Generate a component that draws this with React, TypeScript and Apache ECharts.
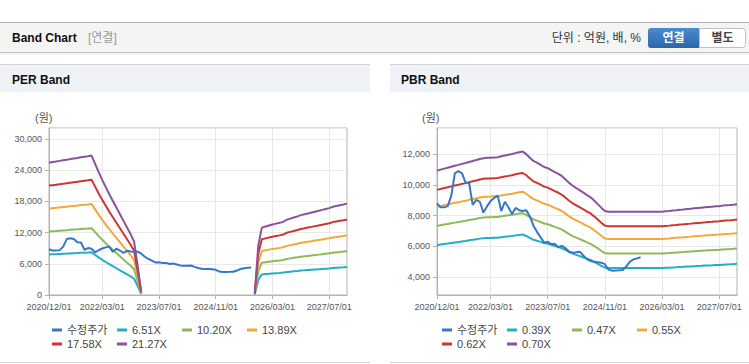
import React, { useEffect, useRef } from "react";
import * as echarts from "echarts";

const FONT = "'Liberation Sans', 'Noto Sans CJK KR', sans-serif";

// Monthly categories 2020/12/01 .. 2027/12/01
const START_YEAR = 2020;
const START_MONTH = 12;
const MONTH_COUNT = 85;
const months: string[] = [];
for (let i = 0; i < MONTH_COUNT; i++) {
  const t = START_MONTH - 1 + i;
  const y = START_YEAR + Math.floor(t / 12);
  const m = (t % 12) + 1;
  months.push(`${y}/${String(m).padStart(2, "0")}/01`);
}
const xTickLabels = ["2020/12/01", "2022/03/01", "2023/07/01", "2024/11/01", "2026/03/01", "2027/07/01"];

// 수정주가 (adjusted price), monthly
const price: (number | null)[] = [
  8800, 8540, 8540, 8620, 9300, 10750, 10900, 10750, 10150, 10100,
  8700, 9020, 8900, 8200, 8600, 8950, 9150, 9300, 8300, 8900,
  8550, 8100, 8500, 8350, 8300, 8350, 7950, 7350, 6950, 6600,
  6250, 6300, 6150, 6170, 5950, 6050, 5880, 5660, 5600, 5620,
  5660, 5400, 5180, 5050, 5010, 4980, 4950, 4850, 4500, 4430,
  4440, 4450, 4470, 4700, 5010, 5160, 5230, 5300,
  null, null, null, null, null, null, null, null, null, null,
  null, null, null, null, null, null, null, null, null, null,
  null, null, null, null, null, null, null,
];

// EPS basis for PER band (null where EPS negative)
const eps: (number | null)[] = [
  1196, 1201, 1206, 1212, 1217, 1222, 1228, 1233, 1238, 1244,
  1249, 1254, 1260, 1185, 1110, 1040, 975, 910, 850, 790,
  730, 670, 610, 550, 480, 260, 28,
  null, null, null, null, null, null, null, null, null, null,
  null, null, null, null, null, null, null, null, null, null,
  null, null, null, null, null, null, null, null, null, null,
  null,
  15, 450, 609, 619, 628, 637, 645, 652, 661, 680,
  690, 700, 710, 722, 729, 737, 745, 753, 761, 769,
  777, 785, 797, 804, 811, 818, 826,
];

// BPS basis for PBR band
const bps: number[] = [
  15600, 15700, 15790, 15870, 15970, 16060, 16140, 16230, 16310, 16410,
  16500, 16590, 16690, 16760, 16790, 16800, 16830, 16840, 16930, 17000,
  17070, 17140, 17230, 17310, 17370, 17130, 16800, 16500, 16340, 16140,
  15940, 15840, 15660, 15470, 15300, 15090, 14790, 14470, 14200, 13990,
  13770, 13560, 13330, 13130, 12830, 12500, 12170, 11860, 11800, 11800,
  11800, 11800, 11800, 11800, 11800, 11800, 11800, 11800, 11800, 11800,
  11800, 11800, 11800, 11800, 11830, 11860, 11900, 11930, 11970, 12000,
  12040, 12070, 12110, 12140, 12170, 12200, 12230, 12260, 12290, 12310,
  12360, 12390, 12410, 12440, 12490,
];

const perMultiples = [6.51, 10.2, 13.89, 17.58, 21.27];
const perNames = ["6.51X", "10.20X", "13.89X", "17.58X", "21.27X"];
const pbrMultiples = [0.39, 0.47, 0.55, 0.62, 0.7];
const pbrNames = ["0.39X", "0.47X", "0.55X", "0.62X", "0.70X"];
const priceName = "수정주가";

const bandColors = ["#22aec3", "#8fb957", "#f3a83b", "#cf3530", "#8c519e"];
const priceColor = "#3576c6";

const perYTicks = { min: 0, max: 32100, interval: 6000 };
const pbrYTicks = { min: 2850, max: 13690 };

export default function App() {
  const ref = useRef<HTMLDivElement>(null);

  useEffect(() => {
    if (!ref.current) return;
    const chart = echarts.init(ref.current, undefined, { renderer: "svg" });

    const tickIdx = new Set(xTickLabels.map((l) => months.indexOf(l)));
    const showIdx = (i: number) => tickIdx.has(i);

    const axisGray = "#b3b3b3";
    const gridGray = "#e8e8e8";

    const makeX = (gi: number) => ({
      type: "category",
      gridIndex: gi,
      data: months,
      boundaryGap: false,
      axisLine: { lineStyle: { color: axisGray } },
      axisTick: { show: true, interval: showIdx, length: 4, lineStyle: { color: axisGray } },
      axisLabel: { interval: showIdx, color: "#555", fontSize: 9, margin: 7, fontFamily: FONT },
      splitLine: { show: true, interval: showIdx, lineStyle: { color: gridGray } },
    });

    const yCommon = {
      type: "value",
      axisLine: { show: true, lineStyle: { color: axisGray } },
      axisTick: { show: true, length: 4, lineStyle: { color: axisGray } },
      splitLine: { show: true, lineStyle: { color: gridGray } },
    };

    const series: any[] = [];
    perMultiples.forEach((m, k) => {
      series.push({
        type: "line",
        name: perNames[k],
        xAxisIndex: 0,
        yAxisIndex: 0,
        data: eps.map((v) => (v == null ? null : Math.round(v * m))),
        symbol: "none",
        lineStyle: { width: 2, color: bandColors[k] },
        itemStyle: { color: bandColors[k] },
      });
    });
    series.push({
      type: "line",
      name: priceName,
      xAxisIndex: 0,
      yAxisIndex: 0,
      data: price,
      symbol: "none",
      lineStyle: { width: 2, color: priceColor },
      itemStyle: { color: priceColor },
    });
    pbrMultiples.forEach((m, k) => {
      series.push({
        type: "line",
        name: pbrNames[k],
        xAxisIndex: 1,
        yAxisIndex: 1,
        data: bps.map((v) => Math.round(v * m)),
        symbol: "none",
        lineStyle: { width: 2, color: bandColors[k] },
        itemStyle: { color: bandColors[k] },
      });
    });
    series.push({
      type: "line",
      name: priceName,
      xAxisIndex: 1,
      yAxisIndex: 1,
      data: price,
      symbol: "none",
      lineStyle: { width: 2, color: priceColor },
      itemStyle: { color: priceColor },
    });

    const legendBase = {
      orient: "horizontal",
      padding: 0,
      itemGap: 0,
      itemWidth: 10,
      itemHeight: 3,
      icon: "rect",
      selectedMode: false,
      textStyle: { fontSize: 11, color: "#444", width: 50, lineHeight: 14, fontFamily: FONT },
    };

    const hText = (text: string, x: number, y: number, extra: any = {}) => ({
      type: "text",
      x,
      y,
      style: {
        text,
        fontFamily: FONT,
        fontSize: 12,
        fill: "#222",
        verticalAlign: "middle",
        ...extra,
      },
    });

    const graphic: any[] = [
      // header
      { type: "rect", shape: { x: 0, y: 22, width: 749, height: 31 }, style: { fill: "#f4f4f4" } },
      { type: "rect", shape: { x: 0, y: 22, width: 749, height: 1 }, style: { fill: "#b4b4b4" } },
      { type: "rect", shape: { x: 0, y: 52, width: 749, height: 1 }, style: { fill: "#c2c2c2" } },
      { type: "rect", shape: { x: 0, y: 53, width: 749, height: 2 }, style: { fill: "rgba(0,0,0,0.05)" } },
      hText("Band Chart", 12, 38, { fontWeight: "bold", fill: "#111" }),
      hText("[연결]", 88, 38, { fill: "#999" }),
      hText("단위 : 억원, 배, %", 641, 38, { align: "right", fill: "#333" }),
      {
        type: "rect",
        shape: { x: 648, y: 28, width: 51, height: 20, r: [3, 0, 0, 3] },
        style: {
          fill: new echarts.graphic.LinearGradient(0, 0, 0, 1, [
            { offset: 0, color: "#4a8bd0" },
            { offset: 1, color: "#2c66a8" },
          ]),
        },
      },
      hText("연결", 673.5, 38, { align: "center", fill: "#fff", fontWeight: "bold" }),
      {
        type: "rect",
        shape: { x: 699.5, y: 28.5, width: 46, height: 19, r: [0, 3, 3, 0] },
        style: { fill: "#fff", stroke: "#c0c0c0", lineWidth: 1 },
      },
      hText("별도", 722.5, 38, { align: "center", fill: "#444", fontWeight: "bold" }),

      // PER panel
      { type: "rect", shape: { x: 0, y: 64, width: 370, height: 1 }, style: { fill: "#d3d3d3" } },
      { type: "rect", shape: { x: 0, y: 65, width: 370, height: 27 }, style: { fill: "#eef2f7" } },
      { type: "rect", shape: { x: 0, y: 362, width: 370, height: 1 }, style: { fill: "#d3d3d3" } },
      hText("PER Band", 12, 80, { fontWeight: "bold", fill: "#111" }),
      hText("(원)", 35, 118, { fontSize: 11, fill: "#555" }),

      // PBR panel
      { type: "rect", shape: { x: 390, y: 64, width: 359, height: 1 }, style: { fill: "#d3d3d3" } },
      { type: "rect", shape: { x: 390, y: 65, width: 359, height: 27 }, style: { fill: "#eef2f7" } },
      { type: "rect", shape: { x: 390, y: 362, width: 359, height: 1 }, style: { fill: "#d3d3d3" } },
      hText("PBR Band", 401, 80, { fontWeight: "bold", fill: "#111" }),
      hText("(원)", 422, 118, { fontSize: 11, fill: "#555" }),
    ];

    chart.setOption({
      animation: false,
      textStyle: { fontFamily: FONT },
      grid: [
        { left: 49, top: 128, width: 298, height: 167, show: true, borderColor: axisGray, borderWidth: 1, backgroundColor: "transparent" },
        { left: 437, top: 128, width: 300, height: 167, show: true, borderColor: axisGray, borderWidth: 1, backgroundColor: "transparent" },
      ],
      xAxis: [makeX(0), makeX(1)],
      yAxis: [
        {
          ...yCommon,
          gridIndex: 0,
          min: perYTicks.min,
          max: perYTicks.max,
          interval: perYTicks.interval,
          axisLabel: {
            color: "#555",
            fontSize: 9,
            margin: 7,
            fontFamily: FONT,
            showMaxLabel: false,
            formatter: (v: number) => v.toLocaleString("en-US"),
          },
        },
        {
          ...yCommon,
          gridIndex: 1,
          min: pbrYTicks.min,
          max: pbrYTicks.max,
          splitNumber: 5,
          axisLabel: {
            color: "#555",
            fontSize: 9,
            margin: 7,
            fontFamily: FONT,
            showMinLabel: false,
            showMaxLabel: false,
            formatter: (v: number) => v.toLocaleString("en-US"),
          },
        },
      ],
      legend: [
        { ...legendBase, left: 52, top: 323, data: [priceName, perNames[0], perNames[1], perNames[2]] },
        { ...legendBase, left: 52, top: 337, data: [perNames[3], perNames[4]] },
        { ...legendBase, left: 442, top: 323, data: [priceName, pbrNames[0], pbrNames[1], pbrNames[2]] },
        { ...legendBase, left: 442, top: 337, data: [pbrNames[3], pbrNames[4]] },
      ],
      graphic,
      series,
    });

    return () => chart.dispose();
  }, []);

  return (
    <div
      ref={ref}
      style={{ position: "absolute", left: 0, top: 0, width: 749, height: 364, background: "#fff" }}
    />
  );
}
